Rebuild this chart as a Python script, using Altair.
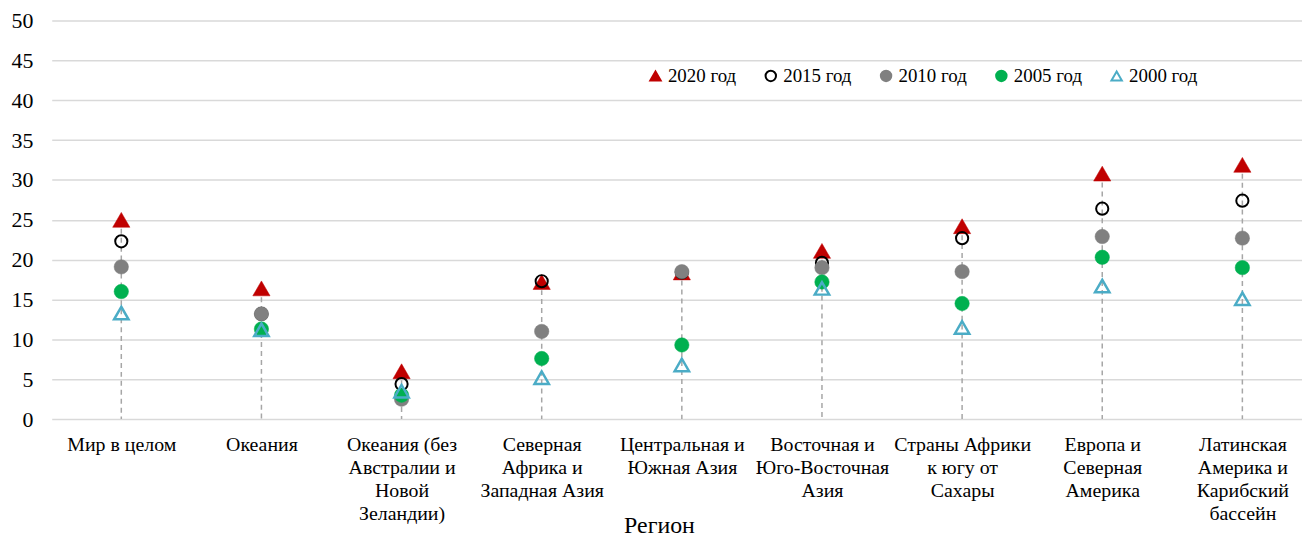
import json
import altair as alt
import pandas as pd

regions = [
    "Мир в целом",
    "Океания",
    "Океания (без|Австралии и|Новой|Зеландии)",
    "Северная|Африка и|Западная Азия",
    "Центральная и|Южная Азия",
    "Восточная и|Юго-Восточная|Азия",
    "Страны Африки|к югу от|Сахары",
    "Европа и|Северная|Америка",
    "Латинская|Америка и|Карибский|бассейн",
]
years = ["2020 год", "2015 год", "2010 год", "2005 год", "2000 год"]

v2020 = [25.0, 16.4, 6.0, 17.2, 18.4, 21.1, 24.2, 30.8, 31.9]
v2015 = [22.3, 13.2, 4.4, 17.3, 18.4, 19.6, 22.7, 26.4, 27.4]
v2010 = [19.1, 13.2, 2.5, 11.0, 18.5, 19.0, 18.5, 22.9, 22.7]
v2005 = [16.0, 11.3, 3.0, 7.6, 9.3, 17.2, 14.5, 20.3, 19.0]
v2000 = [13.3, 11.2, 3.5, 5.2, 6.8, 16.4, 11.5, 16.7, 15.1]

series = [v2020, v2015, v2010, v2005, v2000]

shapes = ["triangle-up", "circle", "circle", "circle", "triangle-up"]
fills = ["#c00000", "transparent", "#808080", "#00b050", "transparent"]
strokes = ["#c00000", "#000000", "#808080", "#00b050", "#4bacc6"]
sizes = [300, 150, 210, 210, 210]
widths = [0.5, 2, 0.5, 0.5, 2.5]

rows = []
for yr, vals in zip(years, series):
    for i, v in enumerate(vals):
        rows.append({"idx": i, "year": yr, "value": v})
df = pd.DataFrame(rows)

tops = pd.DataFrame({"idx": list(range(len(regions))),
                     "top": [max(s[i] for s in series) for i in range(len(regions))]})

font = "Liberation Serif"

# category index -> pixel: first centre 70px, step 141px in a 1258px-wide plot
xscale = alt.Scale(domain=[-70 / 141, (1258 - 70) / 141], nice=False, zero=False)
xaxis = alt.Axis(
    title="Регион",
    values=list(range(len(regions))),
    labelExpr="split(" + json.dumps(regions, ensure_ascii=False) + "[datum.value], '|')",
    labelFontSize=20,
    labelLineHeight=23, labelPadding=16, labelLimit=250,
    labelAngle=0, labelBaseline="top", labelAlign="center", labelFlush=False,
    labelOverlap=False, ticks=False, domain=False, grid=False,
    titleFontSize=24, titleX=611, titleY=114, titleBaseline="alphabetic",
    titleAlign="center",
)
yscale = alt.Scale(domain=[0, 50])
yaxis = alt.Axis(
    title=None, values=list(range(0, 55, 5)), labelPadding=19, labelFontSize=22,
    ticks=False, domain=False,
    grid=True, gridColor="#d9d9d9", gridWidth=1.5,
)

leg = alt.Legend(title=None, orient="none", legendX=598, legendY=46,
                 direction="horizontal")

rules = alt.Chart(tops).mark_rule(
    color="#a6a6a6", strokeDash=[5, 4], strokeWidth=1.5
).encode(
    x=alt.X("idx:Q", scale=xscale, axis=xaxis),
    y=alt.Y("top:Q", scale=yscale, axis=yaxis),
    y2=alt.datum(0),
)

layers = [rules]
for k, yr in enumerate(years):
    layers.append(
        alt.Chart(df).transform_filter(alt.datum.year == yr).mark_point(
            filled=True, opacity=1, size=sizes[k], strokeWidth=widths[k]
        ).encode(
            x=alt.X("idx:Q", scale=xscale, axis=xaxis),
            y=alt.Y("value:Q", scale=yscale, axis=yaxis),
            shape=alt.Shape("year:N", scale=alt.Scale(domain=years, range=shapes),
                            legend=leg),
            fill=alt.Fill("year:N", scale=alt.Scale(domain=years, range=fills),
                          legend=leg),
            stroke=alt.Stroke("year:N", scale=alt.Scale(domain=years, range=strokes),
                              legend=leg),
        )
    )

chart = alt.layer(*layers).properties(
    width=1258, height=401,
    autosize=alt.AutoSizeParams(type="none"),
    padding={"left": 44, "top": 11, "right": 0, "bottom": 120},
).configure_view(stroke=None).configure_axis(
    labelFont=font, labelFontSize=20, labelColor="#000000",
    titleFont=font, titleFontSize=24, titleFontWeight="normal",
    titleColor="#000000",
).configure_legend(
    labelFont=font, labelFontSize=19, labelColor="#000000",
    symbolSize=110, symbolStrokeWidth=2, labelOffset=3, columnPadding=25,
    padding=0,
)

chart.save("out.html", embed_options={"renderer": "svg", "actions": False})
